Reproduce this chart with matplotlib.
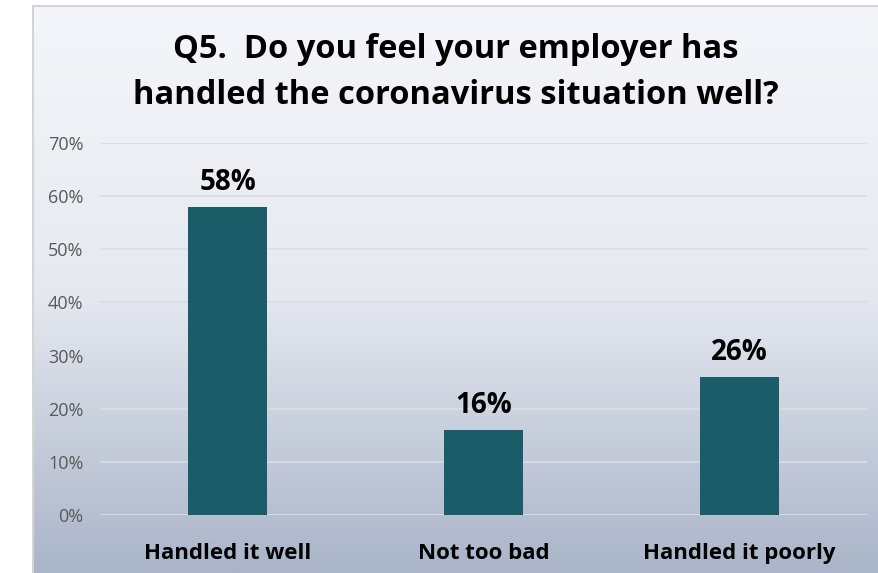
import matplotlib

matplotlib.use("Agg")
import matplotlib.pyplot as plt
import numpy as np
from matplotlib.colors import LinearSegmentedColormap
from matplotlib.lines import Line2D
from matplotlib.ticker import FuncFormatter, MultipleLocator

categories = ["Handled it well", "Not too bad", "Handled it poorly"]
shares = [58, 16, 26]
title = "Q5.  Do you feel your employer has\nhandled the coronavirus situation well?"

W, H = 879, 573
fig = plt.figure(figsize=(W / 100, H / 100), dpi=100)
fig.patch.set_facecolor("white")
plt.rcParams["font.family"] = ["Open Sans", "DejaVu Sans"]

# panel with a vertical gradient behind the chart
px0, py0 = 33 / W, 0.0
px1, py1 = 1.0, 1 - 6 / H
bg = fig.add_axes([px0, py0, px1 - px0, py1 - py0], zorder=0)
grad = LinearSegmentedColormap.from_list("panel", ["#f5f6fa", "#e6e9f0", "#aab5c9"])
bg.imshow(np.linspace(0, 1, 256)[:, None], aspect="auto", cmap=grad,
          extent=[0, 1, 0, 1], origin="upper")
# only the left and top edges of the panel show
for xs, ys in (([0, 0], [0, 1]), ([0, 1], [1, 1])):
    bg.add_line(Line2D(xs, ys, transform=bg.transAxes, color="#d4d4d4",
                       linewidth=1.5, clip_on=False))
bg.set_axis_off()

ax = fig.add_axes([100 / W, 1 - 515 / H, 767 / W, (515 - 143) / H], zorder=1)
ax.patch.set_alpha(0)
x = np.arange(len(categories))
ax.bar(x, shares, width=0.31, color="#1a5c68", zorder=3)
for xi, v in zip(x, shares):
    ax.text(xi, v + 1.8, f"{v}%", ha="center", va="bottom",
            fontsize=20, fontweight="bold", color="black")

ax.set_xlim(-0.5, len(categories) - 0.5)
ax.set_ylim(0, 70)
ax.yaxis.set_major_locator(MultipleLocator(10))
ax.yaxis.set_major_formatter(FuncFormatter(lambda v, _: f"{v:.0f}%"))
ax.grid(axis="y", color="#dadde3", linewidth=1.2, zorder=0)
ax.set_xticks(x)
ax.set_xticklabels(categories, fontsize=16, fontweight="bold")
ax.tick_params(axis="x", length=0, pad=20)
ax.tick_params(axis="y", length=0, pad=12, labelsize=13, labelcolor="#595959")
for s in ax.spines.values():
    s.set_visible(False)

fig.text(0.5 + 33 / W / 2, 1 - 73 / H, title, ha="center", va="center",
         fontsize=23.5, fontweight="bold", linespacing=1.52)

fig.savefig("out.png", dpi=100)
